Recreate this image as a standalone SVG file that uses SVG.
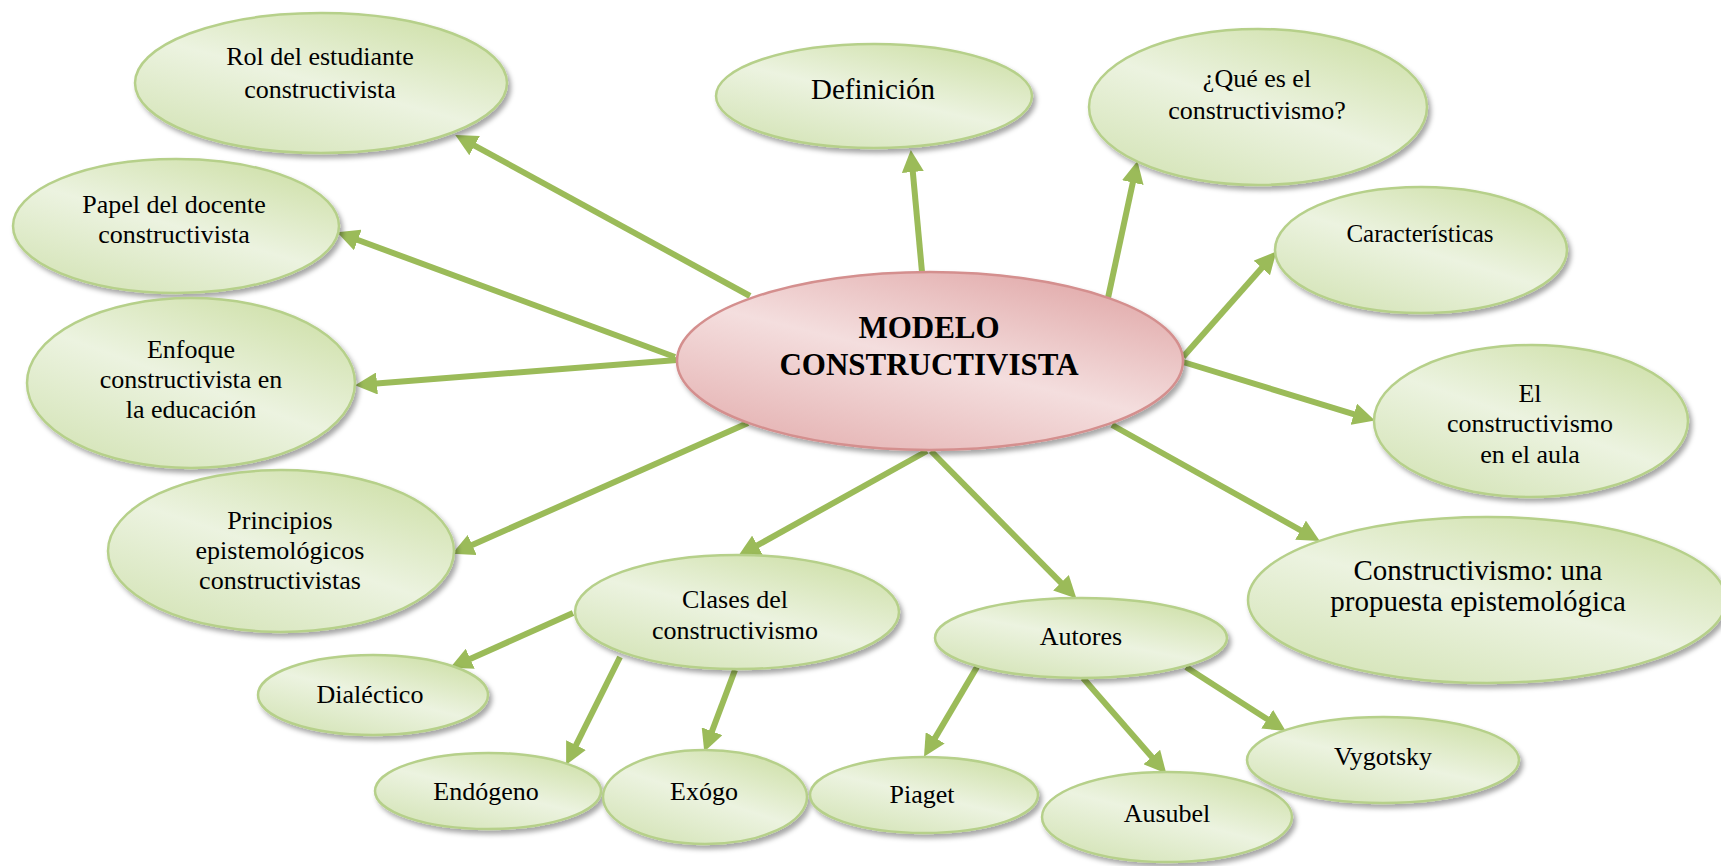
<svg xmlns="http://www.w3.org/2000/svg" width="1721" height="866" viewBox="0 0 1721 866">
<defs>
<linearGradient id="gGreen" x1="0.85" y1="0" x2="0.15" y2="1">
<stop offset="0" stop-color="#cddfa6"/>
<stop offset="0.5" stop-color="#ecf3e0"/>
<stop offset="1" stop-color="#d3e3b5"/>
</linearGradient>
<linearGradient id="gRed" x1="0.85" y1="0" x2="0.15" y2="1">
<stop offset="0" stop-color="#e0a6a6"/>
<stop offset="0.5" stop-color="#f4dede"/>
<stop offset="1" stop-color="#e4b0b0"/>
</linearGradient>
<filter id="sh" x="-10%" y="-10%" width="125%" height="130%">
<feDropShadow dx="3" dy="4" stdDeviation="2.5" flood-color="#000" flood-opacity="0.35"/>
</filter>
<marker id="ah" markerUnits="userSpaceOnUse" markerWidth="22" markerHeight="22" refX="10" refY="11" orient="auto">
<path d="M0,0 L22,11 L0,22 z" fill="#9bbb59"/>
</marker>
</defs>
<style>
.n{fill:url(#gGreen);stroke:#b6d08a;stroke-width:2.5;filter:url(#sh)}
.c{fill:url(#gRed);stroke:#d48f8e;stroke-width:2.5;filter:url(#sh)}
.t{font-family:"Liberation Serif","Times New Roman",serif;font-size:26px;fill:#000;text-anchor:middle}
.tb{font-family:"Liberation Serif","Times New Roman",serif;font-size:31px;font-weight:bold;fill:#000;text-anchor:middle}
.e{stroke:#9bbb59;stroke-width:6;fill:none;marker-end:url(#ah)}
</style>
<g id="connectors">
<line class="e" x1="750" y1="296" x2="465.8" y2="140.8"/>
<line class="e" x1="675" y1="357" x2="348.4" y2="236.5"/>
<line class="e" x1="677" y1="360" x2="367" y2="384.2"/>
<line class="e" x1="748" y1="423" x2="463.1" y2="549"/>
<line class="e" x1="922" y1="272" x2="911.9" y2="162"/>
<line class="e" x1="1108" y1="298" x2="1134.9" y2="172.8"/>
<line class="e" x1="1183" y1="357" x2="1268.4" y2="260.5"/>
<line class="e" x1="1183" y1="362" x2="1363.4" y2="417.1"/>
<line class="e" x1="1112" y1="425" x2="1309.3" y2="535.1"/>
<line class="e" x1="927" y1="451" x2="748.7" y2="550.1"/>
<line class="e" x1="931" y1="451" x2="1068" y2="589.9"/>
<line class="e" x1="573" y1="613" x2="461.1" y2="662.9"/>
<line class="e" x1="620" y1="657" x2="571.5" y2="754.1"/>
<line class="e" x1="735" y1="670" x2="708.5" y2="740.6"/>
<line class="e" x1="977" y1="667" x2="930.1" y2="746.4"/>
<line class="e" x1="1083" y1="678" x2="1158.4" y2="764.5"/>
<line class="e" x1="1186" y1="667" x2="1275.6" y2="724.6"/>
</g>
<g id="n-central">
<ellipse class="c" cx="930" cy="361" rx="253" ry="89"/>
<text class="tb" x="929" y="338">MODELO</text>
<text class="tb" x="929" y="375">CONSTRUCTIVISTA</text>
</g>
<g id="n-rol">
<ellipse class="n" cx="321" cy="83" rx="186" ry="70"/>
<text class="t" x="320" y="65">Rol del estudiante</text>
<text class="t" x="320" y="98">constructivista</text>
</g>
<g id="n-papel">
<ellipse class="n" cx="176" cy="226" rx="163" ry="67"/>
<text class="t" x="174" y="213">Papel del docente</text>
<text class="t" x="174" y="243">constructivista</text>
</g>
<g id="n-enfoque">
<ellipse class="n" cx="191" cy="383" rx="164" ry="85"/>
<text class="t" x="191" y="358">Enfoque</text>
<text class="t" x="191" y="388">constructivista en</text>
<text class="t" x="191" y="418">la educación</text>
</g>
<g id="n-principios">
<ellipse class="n" cx="281" cy="551" rx="173" ry="81"/>
<text class="t" x="280" y="529">Principios</text>
<text class="t" x="280" y="559">epistemológicos</text>
<text class="t" x="280" y="589">constructivistas</text>
</g>
<g id="n-definicion">
<ellipse class="n" cx="874" cy="96" rx="158" ry="52"/>
<text class="t" x="873" y="99" style="font-size:29px">Definición</text>
</g>
<g id="n-que">
<ellipse class="n" cx="1258" cy="107" rx="169" ry="78"/>
<text class="t" x="1257" y="87">¿Qué es el</text>
<text class="t" x="1257" y="119">constructivismo?</text>
</g>
<g id="n-caracteristicas">
<ellipse class="n" cx="1421" cy="250" rx="146" ry="63"/>
<text class="t" x="1420" y="242" style="font-size:25px">Características</text>
</g>
<g id="n-aula">
<ellipse class="n" cx="1531" cy="421" rx="157" ry="76"/>
<text class="t" x="1530" y="402">El</text>
<text class="t" x="1530" y="432">constructivismo</text>
<text class="t" x="1530" y="463">en el aula</text>
</g>
<g id="n-propuesta">
<ellipse class="n" cx="1487" cy="600" rx="239" ry="83"/>
<text class="t" x="1478" y="580" style="font-size:29px">Constructivismo: una</text>
<text class="t" x="1478" y="611" style="font-size:29px">propuesta epistemológica</text>
</g>
<g id="n-clases">
<ellipse class="n" cx="737" cy="612" rx="162" ry="57"/>
<text class="t" x="735" y="608">Clases del</text>
<text class="t" x="735" y="639">constructivismo</text>
</g>
<g id="n-dialectico">
<ellipse class="n" cx="373" cy="695" rx="115" ry="40"/>
<text class="t" x="370" y="703">Dialéctico</text>
</g>
<g id="n-endogeno">
<ellipse class="n" cx="488" cy="791" rx="113" ry="38"/>
<text class="t" x="486" y="800">Endógeno</text>
</g>
<g id="n-exogo">
<ellipse class="n" cx="705" cy="797" rx="102" ry="47"/>
<text class="t" x="704" y="800">Exógo</text>
</g>
<g id="n-autores">
<ellipse class="n" cx="1081" cy="638" rx="146" ry="40"/>
<text class="t" x="1081" y="645">Autores</text>
</g>
<g id="n-piaget">
<ellipse class="n" cx="924" cy="795" rx="114" ry="38"/>
<text class="t" x="922" y="803">Piaget</text>
</g>
<g id="n-ausubel">
<ellipse class="n" cx="1167" cy="817" rx="125" ry="45"/>
<text class="t" x="1167" y="822">Ausubel</text>
</g>
<g id="n-vygotsky">
<ellipse class="n" cx="1383" cy="760" rx="136" ry="43"/>
<text class="t" x="1383" y="765">Vygotsky</text>
</g>
</svg>
